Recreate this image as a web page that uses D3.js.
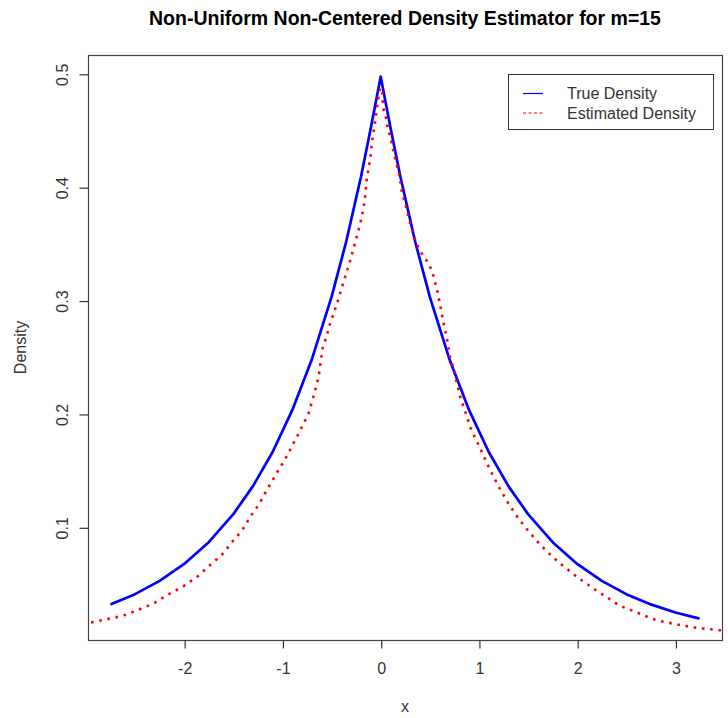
<!DOCTYPE html>
<html>
<head>
<meta charset="utf-8">
<script src="https://cdn.jsdelivr.net/npm/d3@7"></script>
<style>
  html, body { margin: 0; padding: 0; background: #ffffff; }
  svg { display: block; }
  text { font-family: "Liberation Sans", Arial, sans-serif; }
</style>
</head>
<body>
<svg id="chart" width="728" height="718"></svg>
<script>
// ---- Data ----
const titleText = "Non-Uniform Non-Centered Density Estimator for m=15";
const xLabel = "x";
const yLabel = "Density";
const xTicks = [-2, -1, 0, 1, 2, 3];
const xTickLabels = ["-2", "-1", "0", "1", "2", "3"];
const yTicks = [0.1, 0.2, 0.3, 0.4, 0.5];
const yTickLabels = ["0.1", "0.2", "0.3", "0.4", "0.5"];
const legendLabels = ["True Density", "Estimated Density"];

// True density (blue)
const trueX = [-2.74, -2.5, -2.25, -2.0, -1.75, -1.5, -1.3, -1.1, -0.9, -0.7, -0.5, -0.35, -0.2, -0.1, 0.0,
               0.1, 0.2, 0.35, 0.5, 0.7, 0.9, 1.1, 1.3, 1.5, 1.75, 2.0, 2.25, 2.5, 2.75, 3.0, 3.235];
const trueY = [0.0323, 0.0410, 0.0527, 0.0677, 0.0869, 0.1116, 0.1363, 0.1664, 0.2033, 0.2483, 0.3033, 0.3523, 0.4094, 0.4524, 0.4975,
               0.4524, 0.4094, 0.3523, 0.3033, 0.2483, 0.2033, 0.1664, 0.1363, 0.1116, 0.0869, 0.0677, 0.0527, 0.0410, 0.0320, 0.0249, 0.0197];

// Estimated density (red)
const estX = [-3.2, -2.963, -2.793, -2.624, -2.472, -2.309, -2.156, -2.003, -1.867, -1.748, -1.619, -1.510, -1.408,
              -1.327, -1.242, -1.164, -1.079, -0.944, -0.808, -0.733, -0.672, -0.631, -0.611, -0.588, -0.553, -0.519,
              -0.445, -0.400, -0.349, -0.305, -0.265, -0.224, -0.190, -0.163, -0.140, -0.105, -0.085, -0.061, -0.031, -0.005,
              0.017, 0.023, 0.048, 0.074, 0.102, 0.125, 0.160, 0.193, 0.217, 0.244, 0.278, 0.302, 0.323, 0.346, 0.370,
              0.404, 0.448, 0.482, 0.516, 0.540, 0.560, 0.580, 0.611, 0.642, 0.675, 0.703, 0.743, 0.777, 0.815, 0.866,
              0.916, 0.947, 1.0, 1.1, 1.2, 1.3, 1.4, 1.5, 1.6, 1.7, 1.8, 1.9, 2.0, 2.1, 2.2, 2.3, 2.366, 2.434, 2.518,
              2.604, 2.681, 2.763, 2.851, 2.936, 3.017, 3.103, 3.190, 3.276, 3.357, 3.445, 3.6];
const estY = [0.0142, 0.0158, 0.0188, 0.0219, 0.0270, 0.0329, 0.0411, 0.0484, 0.0564, 0.0658, 0.0755, 0.0873, 0.0976,
              0.1094, 0.1197, 0.1321, 0.1447, 0.1645, 0.1874, 0.2007, 0.2192, 0.2330, 0.2457, 0.2595, 0.2674, 0.2786,
              0.2972, 0.3102, 0.3243, 0.3369, 0.3493, 0.3625, 0.3743, 0.3875, 0.4082, 0.4258, 0.4420, 0.4552, 0.4747, 0.4879,
              0.4832, 0.4700, 0.4641, 0.4508, 0.4435, 0.4332, 0.4214, 0.4096, 0.3949, 0.3875, 0.3758, 0.3669, 0.3610, 0.3552, 0.3493,
              0.3434, 0.3375, 0.3336, 0.3272, 0.3208, 0.3139, 0.3072, 0.2934, 0.2795, 0.2660, 0.2513, 0.2389, 0.2265, 0.2133, 0.2007,
              0.1874, 0.1815, 0.1720, 0.1530, 0.1360, 0.1210, 0.1080, 0.0970, 0.0870, 0.0780, 0.0700, 0.0630, 0.0560, 0.0500, 0.0440, 0.0385, 0.0345, 0.0308, 0.0280,
              0.0250, 0.0222, 0.0192, 0.0172, 0.0157, 0.0143, 0.0130, 0.0117, 0.0108, 0.0100, 0.0093, 0.0084];

// ---- Layout ----
const plot = { left: 88, right: 722, top: 55, bottom: 640 };
const svg = d3.select("#chart");

function extend(ext) {
  const w = ext[1] - ext[0];
  return [ext[0] - 0.04 * w, ext[1] + 0.04 * w];
}
const x = d3.scaleLinear().domain(extend(d3.extent(trueX))).range([plot.left, plot.right]);
const y = d3.scaleLinear().domain(extend(d3.extent(trueY))).range([plot.bottom, plot.top]);

svg.append("defs").append("clipPath").attr("id", "clip")
  .append("rect")
  .attr("x", plot.left).attr("y", plot.top)
  .attr("width", plot.right - plot.left).attr("height", plot.bottom - plot.top);

const line = d3.line().x(d => x(d[0])).y(d => y(d[1]));

const g = svg.append("g").attr("clip-path", "url(#clip)");
g.append("path")
  .datum(trueX.map((v, i) => [v, trueY[i]]))
  .attr("d", line)
  .attr("fill", "none").attr("stroke", "#0000ff").attr("stroke-width", 2.7)
  .attr("stroke-linejoin", "round").attr("stroke-linecap", "round");

g.append("path")
  .datum(estX.map((v, i) => [v, estY[i]]))
  .attr("d", line)
  .attr("fill", "none").attr("stroke", "#ff0000").attr("stroke-width", 2.6)
  .attr("stroke-dasharray", "2.6,5.7");

// Box
svg.append("rect")
  .attr("x", plot.left + 0.5).attr("y", plot.top + 0.5)
  .attr("width", plot.right - plot.left).attr("height", plot.bottom - plot.top)
  .attr("fill", "none").attr("stroke", "#444").attr("stroke-width", 1.2);

// Axes
const xAxis = d3.axisBottom(x).tickValues(xTicks).tickSize(8).tickPadding(14)
  .tickFormat((d, i) => xTickLabels[i]);
const xg = svg.append("g").attr("transform", `translate(0.5,${plot.bottom + 0.5})`).call(xAxis);
xg.select(".domain").remove();
xg.selectAll("line").attr("stroke", "#333").attr("stroke-width", 1.2);
xg.selectAll("text").attr("font-size", 16).attr("fill", "#333")
  .attr("font-family", "Liberation Sans, Arial, sans-serif");

const yAxis = d3.axisLeft(y).tickValues(yTicks).tickSize(9).tickFormat((d, i) => yTickLabels[i]);
const yg = svg.append("g").attr("transform", `translate(${plot.left + 0.5},0.5)`).call(yAxis);
yg.select(".domain").remove();
yg.selectAll("line").attr("stroke", "#333").attr("stroke-width", 1.2);
yg.selectAll("text")
  .attr("font-size", 16).attr("fill", "#333")
  .attr("font-family", "Liberation Sans, Arial, sans-serif")
  .attr("x", null).attr("dy", null)
  .attr("text-anchor", "middle")
  .attr("transform", "translate(-26,0) rotate(-90)")
  .attr("y", 0)
  .attr("dominant-baseline", "central");

// Title
svg.append("text")
  .attr("x", (plot.left + plot.right) / 2).attr("y", 25)
  .attr("text-anchor", "middle")
  .attr("font-size", 19.5).attr("font-weight", "bold").attr("fill", "#000")
  .text(titleText);

// Axis labels
svg.append("text")
  .attr("x", (plot.left + plot.right) / 2).attr("y", 712)
  .attr("text-anchor", "middle").attr("font-size", 16).attr("fill", "#333")
  .text(xLabel);
svg.append("text")
  .attr("transform", `translate(26,${(plot.top + plot.bottom) / 2}) rotate(-90)`)
  .attr("text-anchor", "middle").attr("font-size", 16).attr("fill", "#333")
  .text(yLabel);

// Legend
const lg = svg.append("g");
lg.append("rect").attr("x", 508.5).attr("y", 74.5).attr("width", 205).attr("height", 55)
  .attr("fill", "#fff").attr("stroke", "#333").attr("stroke-width", 1);
const legendColors = ["#0000ff", "#ff0000"];
const legendDash = [null, "3,2.5"];
legendLabels.forEach((lab, i) => {
  const yy = 93.5 + i * 19.5;
  lg.append("line").attr("x1", 523).attr("x2", 543).attr("y1", yy).attr("y2", yy)
    .attr("stroke", legendColors[i]).attr("stroke-width", 1.2)
    .attr("stroke-dasharray", legendDash[i]);
  lg.append("text").attr("x", 567).attr("y", yy).attr("dominant-baseline", "central")
    .attr("font-size", 16).attr("fill", "#333").text(lab);
});
</script>
</body>
</html>
